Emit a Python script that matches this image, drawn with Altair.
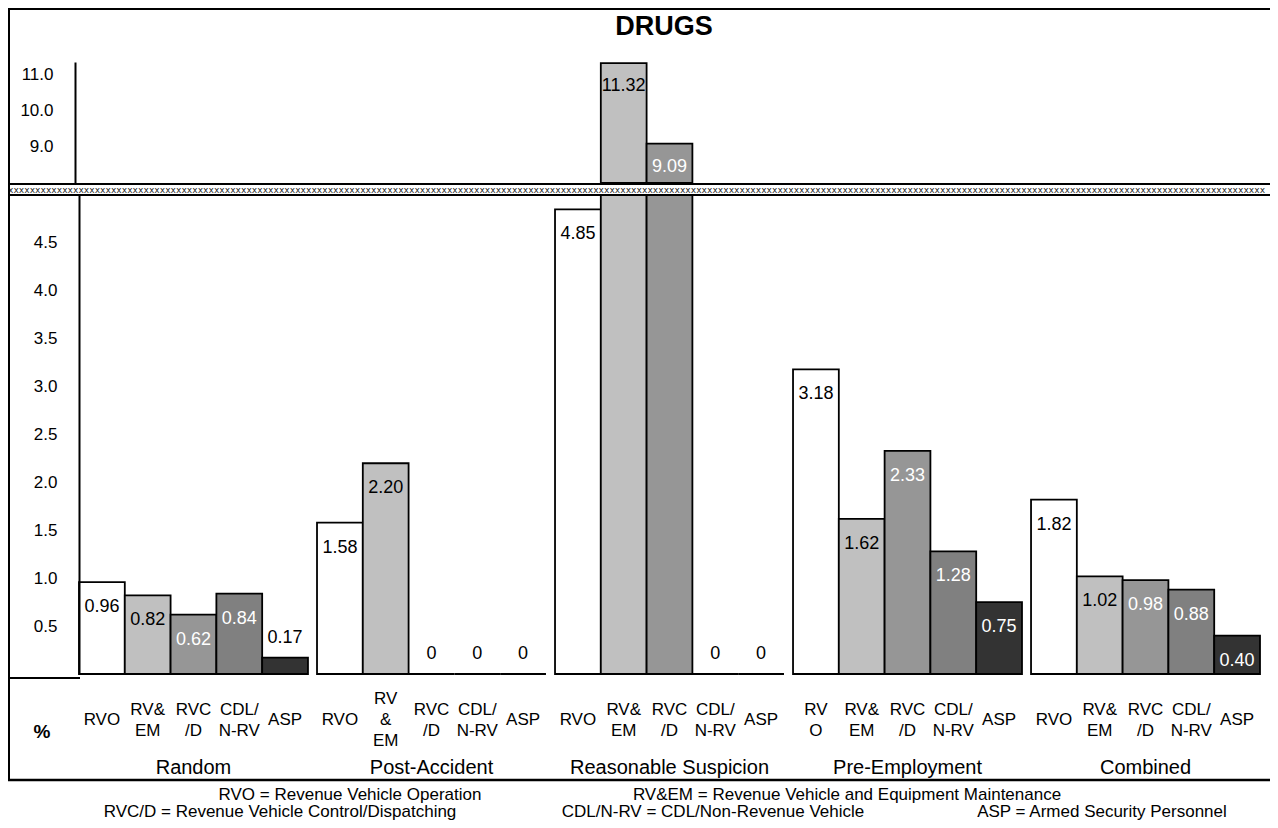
import altair as alt
import pandas as pd

# ---------------- data ----------------
groups = ["Random", "Post-Accident", "Reasonable Suspicion", "Pre-Employment", "Combined"]
cats = ["RVO", "RV&EM", "RVC/D", "CDL/N-RV", "ASP"]
random_vals = [0.96, 0.82, 0.62, 0.84, 0.17]
post_accident_vals = [1.58, 2.20, 0.0, 0.0, 0.0]
reasonable_vals = [4.85, 11.32, 9.09, 0.0, 0.0]
pre_employment_vals = [3.18, 1.62, 2.33, 1.28, 0.75]
combined_vals = [1.82, 1.02, 0.98, 0.88, 0.40]

random_ticks = ["RVO", "RV&|EM", "RVC|/D", "CDL/|N-RV", "ASP"]
post_accident_ticks = ["RVO", "RV|&|EM", "RVC|/D", "CDL/|N-RV", "ASP"]
reasonable_ticks = ["RVO", "RV&|EM", "RVC|/D", "CDL/|N-RV", "ASP"]
pre_employment_ticks = ["RV|O", "RV&|EM", "RVC|/D", "CDL/|N-RV", "ASP"]
combined_ticks = ["RVO", "RV&|EM", "RVC|/D", "CDL/|N-RV", "ASP"]

lower_ticks = [0.5, 1.0, 1.5, 2.0, 2.5, 3.0, 3.5, 4.0, 4.5]
upper_ticks = [9.0, 10.0, 11.0]
bar_colors = ["#ffffff", "#c0c0c0", "#969696", "#808080", "#333333"]

title_text = "DRUGS"
axis_unit = "%"
footnote_row1 = ["RVO = Revenue Vehicle Operation",
                 "RV&EM = Revenue Vehicle and Equipment Maintenance"]
footnote_row2 = ["RVC/D = Revenue Vehicle Control/Dispatching",
                 "CDL/N-RV = CDL/Non-Revenue Vehicle",
                 "ASP = Armed Security Personnel"]

all_vals = [random_vals, post_accident_vals, reasonable_vals, pre_employment_vals, combined_vals]
all_ticks = [random_ticks, post_accident_ticks, reasonable_ticks, pre_employment_ticks, combined_ticks]

rows = []
for g, vals, tks in zip(groups, all_vals, all_ticks):
    for c, v, t in zip(cats, vals, tks):
        rows.append({"group": g, "cat": c, "value": v, "tick": t})
df = pd.DataFrame(rows)

# ---------------- styling / layout ----------------
FN = "Liberation Sans, Arial, sans-serif"
W = 1181          # plot width  (page x 79 .. 1260)
H = 612           # plot height (page y 62 .. 674)
UP_BOTTOM = 121   # upper panel spans 0..121
LOW_TOP = 133     # lower panel spans 133..612
L = -71
R = 1191

xenc = alt.X("group:N", sort=groups,
             scale=alt.Scale(domain=groups, paddingInner=0.038, paddingOuter=0),
             axis=None)
xoff = alt.XOffset("cat:N", sort=cats,
                   scale=alt.Scale(domain=cats, paddingInner=0, paddingOuter=0))
colenc = alt.Color("cat:N", scale=alt.Scale(domain=cats, range=bar_colors), legend=None)
txtcol = alt.condition(alt.FieldOneOfPredicate(field="cat", oneOf=["RVO", "RV&EM"]),
                       alt.value("black"), alt.value("white"))
lbl_calc = "datum.value == 0 ? '0' : format(datum.value, '.2f')"

low_scale = alt.Scale(domain=[0, 5], range=[H, LOW_TOP], nice=False, zero=True)
up_scale = alt.Scale(domain=[8, 11.35], range=[UP_BOTTOM, 0], nice=False, zero=False)

low_axis = alt.Axis(values=lower_ticks, format=".1f", ticks=False, grid=False,
                    domainColor="black", domainWidth=2, labelPadding=22,
                    labelFont=FN, labelFontSize=17, labelColor="black",
                    title=None, zindex=1)
up_axis = alt.Axis(orient="right", offset=-(W + 4), values=upper_ticks, format=".1f",
                   ticks=False, grid=False, domainColor="black", domainWidth=2,
                   labelAlign="right", labelPadding=-22,
                   labelFont=FN, labelFontSize=17, labelColor="black",
                   title=None, zindex=1)


def one(**kw):
    return pd.DataFrame([kw])


def hrule(x1, x2, y, w=2):
    return alt.Chart(one(a=1)).mark_rule(color="black", strokeWidth=w).encode(
        x=alt.value(x1), x2=alt.value(x2), y=alt.value(y))


# lower-panel bars (the part above the break is hidden under the break band)
low_bars = alt.Chart(df).transform_calculate(vlow="min(datum.value, 5.1)").mark_bar(
    stroke="black", strokeWidth=1.8).encode(
    x=xenc, xOffset=xoff, y=alt.Y("vlow:Q", scale=low_scale, axis=low_axis), color=colenc)

# upper-panel bars (only values above the break)
up_bars = alt.Chart(df).transform_filter("datum.value > 8").mark_bar(
    stroke="black", strokeWidth=1.8).encode(
    x=xenc, xOffset=xoff, y=alt.Y("value:Q", scale=up_scale, axis=up_axis),
    y2=alt.datum(8), color=colenc)

low_in = alt.Chart(df).transform_filter("datum.value >= 0.3 && datum.value < 5").transform_calculate(
    lbl=lbl_calc).mark_text(baseline="middle", dy=25, font=FN, fontSize=18).encode(
    x=xenc, xOffset=xoff, y=alt.Y("value:Q", scale=low_scale, axis=None),
    text="lbl:N", color=txtcol)
low_out = alt.Chart(df).transform_filter("datum.value < 0.3").transform_calculate(
    lbl=lbl_calc).mark_text(baseline="middle", dy=-20, font=FN, fontSize=18, color="black").encode(
    x=xenc, xOffset=xoff, y=alt.Y("value:Q", scale=low_scale, axis=None), text="lbl:N")
up_lbls = alt.Chart(df).transform_filter("datum.value > 8").transform_calculate(
    lbl=lbl_calc).mark_text(baseline="middle", dy=23, font=FN, fontSize=18).encode(
    x=xenc, xOffset=xoff, y=alt.Y("value:Q", scale=up_scale, axis=None),
    text="lbl:N", color=txtcol)

# break band
band_rect = alt.Chart(one(a=1)).mark_rect(color="white").encode(
    x=alt.value(L), x2=alt.value(R), y=alt.value(UP_BOTTOM + 1), y2=alt.value(LOW_TOP))
band_pattern = alt.Chart(one(t="x" * 232)).mark_text(
    align="left", baseline="middle", font="DejaVu Sans Mono", fontSize=9, color="#222222").encode(
    x=alt.value(L), y=alt.value((UP_BOTTOM + LOW_TOP) / 2 + 0.5), text="t:N")
band_top = hrule(L, R, UP_BOTTOM + 1)
band_bot = hrule(L, R, LOW_TOP)

# frame
frame_top = hrule(L, R, -53)
frame_left = alt.Chart(one(a=1)).mark_rule(color="black", strokeWidth=2).encode(
    x=alt.value(L + 1), y=alt.value(-54), y2=alt.value(719))
frame_bottom = hrule(L, R, 718, 2.5)
under_axis = hrule(L, 1, 616)

title = alt.Chart(one(t=title_text)).mark_text(
    font=FN, fontSize=27, fontWeight="bold", baseline="middle").encode(
    x=alt.value(585), y=alt.value(-35), text="t:N")
pct = alt.Chart(one(t=axis_unit)).mark_text(
    font=FN, fontSize=19, fontWeight="bold", baseline="middle").encode(
    x=alt.value(-37), y=alt.value(670), text="t:N")

# category tick labels: blocks of 1, 2 or 3 lines centred on the same row
LINE_H = 21
LBL_Y = 658


def cat_layer(n_lines):
    return alt.Chart(df).transform_filter(
        f"length(split(datum.tick, '|')) == {n_lines}").mark_text(
        baseline="middle", lineBreak="|", lineHeight=LINE_H,
        font=FN, fontSize=17, color="black").encode(
        x=xenc, xOffset=xoff, y=alt.value(LBL_Y - (n_lines - 1) * LINE_H / 2), text="tick:N")


cat1, cat2, cat3 = cat_layer(1), cat_layer(2), cat_layer(3)

grp_lbls = alt.Chart(pd.DataFrame({"group": groups})).mark_text(
    baseline="middle", font=FN, fontSize=20, color="black").encode(
    x=xenc, y=alt.value(706), text="group:N")

fn_df = pd.DataFrame({
    "t": footnote_row1 + footnote_row2,
    "xp": [271, 768, 201, 634, 1023],
    "yp": [733, 733, 750, 750, 750],
})
foot = alt.Chart(fn_df).mark_text(font=FN, fontSize=17, baseline="middle", color="black").encode(
    x=alt.X("xp:Q", scale=None), y=alt.Y("yp:Q", scale=None), text="t:N")

chart = alt.layer(
    low_bars, up_bars, low_in, low_out, up_lbls,
    band_rect, band_pattern, band_top, band_bot,
    frame_top, frame_left, frame_bottom, under_axis,
    title, pct, cat1, cat2, cat3, grp_lbls, foot,
).resolve_scale(y="independent").properties(
    width=W, height=H,
    autosize=alt.AutoSizeParams(type="none"),
    padding={"left": 71, "top": 54, "right": 10, "bottom": 149},
    background="white",
).configure_view(stroke=None)

chart.save("out.html", embed_options={"renderer": "svg", "actions": False})
